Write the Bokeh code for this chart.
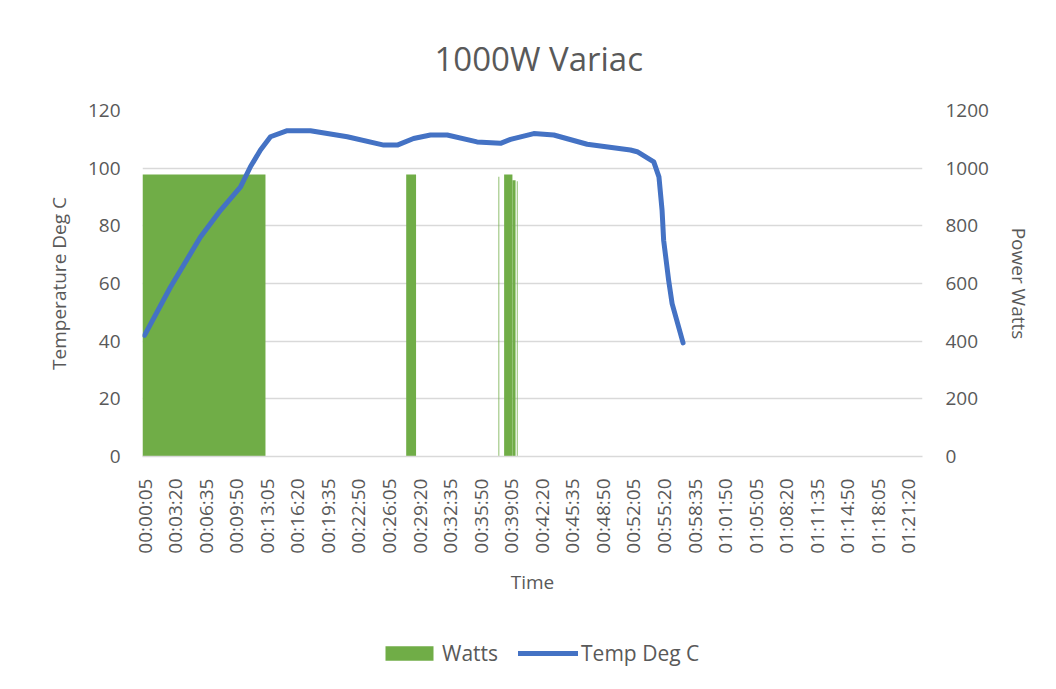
import math
from bokeh.plotting import figure
from bokeh.layouts import column
from bokeh.models import (Range1d, LinearAxis, FixedTicker, Legend, LegendItem,
                          ColumnDataSource)
from bokeh.embed import file_html
from bokeh.resources import INLINE

# ---- data ----
# Temperature curve: time in seconds, degrees C
temp_time_s = [5, 171, 362, 490, 618, 681, 745, 809, 916, 1064, 1299, 1532, 1618,
               1722, 1830, 1937, 2127, 2277, 2341, 2489, 2617, 2830, 3106, 3149,
               3255, 3288, 3308, 3318, 3350, 3372, 3442]
temp_deg_c = [42.0, 58.8, 76.1, 85.4, 93.5, 100.5, 106.3, 110.9, 113.0, 113.0, 110.9,
              108.0, 108.0, 110.3, 111.5, 111.5, 109.1, 108.6, 110.0, 112.0, 111.5,
              108.3, 106.3, 105.7, 102.2, 97.0, 85.4, 75.0, 61.1, 53.0, 39.4]

# Power: intervals during which the heater was on (seconds) and watts
watt_start_s = [-8, 1675, 2264, 2300, 2353, 2381]
watt_end_s = [777, 1738, 2269, 2353, 2373, 2386]
watt_values = [978, 978, 970, 978, 958, 955]

# Category tick labels on the time axis
tick_labels = ["00:00:05", "00:03:20", "00:06:35", "00:09:50", "00:13:05", "00:16:20",
               "00:19:35", "00:22:50", "00:26:05", "00:29:20", "00:32:35", "00:35:50",
               "00:39:05", "00:42:20", "00:45:35", "00:48:50", "00:52:05", "00:55:20",
               "00:58:35", "01:01:50", "01:05:05", "01:08:20", "01:11:35", "01:14:50",
               "01:18:05", "01:21:20"]
temp_ticks = [0, 20, 40, 60, 80, 100, 120]
power_ticks = [0, 200, 400, 600, 800, 1000, 1200]


def to_seconds(s):
    h, m, sec = (int(v) for v in s.split(":"))
    return h * 3600 + m * 60 + sec


tick_pos = [to_seconds(s) for s in tick_labels]

watt_src = ColumnDataSource(dict(left=watt_start_s, right=watt_end_s,
                                 top=watt_values, bottom=[0] * len(watt_values)))
temp_src = ColumnDataSource(dict(t=temp_time_s, c=temp_deg_c))

FONT = "Open Sans"
GRAY = "#595959"
GRID = "#D9D9D9"
GREEN = "#70AD47"
BLUE = "#4472C4"

W = 1050
p = figure(width=W, height=610, output_backend="svg", toolbar_location=None,
           x_range=Range1d(-7.8, 4970), y_range=Range1d(0, 120),
           min_border_left=142, min_border_right=W - 922, min_border_top=110,
           min_border_bottom=154)
p.outline_line_color = None
p.background_fill_color = "white"
p.border_fill_color = "white"

p.title.text = "1000W Variac"
p.title.align = "left"
p.title.offset = 292
p.title.text_font = FONT
p.title.text_font_size = "33px"
p.title.text_font_style = "normal"
p.title.text_color = GRAY
p.title.standoff = 60

p.extra_y_ranges = {"power": Range1d(0, 1200)}

bars = p.quad(left="left", right="right", bottom="bottom", top="top",
              source=watt_src, fill_color=GREEN, line_color=None,
              y_range_name="power")
line = p.line("t", "c", source=temp_src, line_color=BLUE, line_width=5,
              line_cap="round", line_join="round")

# Axes
xa = p.xaxis[0]
xa.ticker = FixedTicker(ticks=tick_pos)
xa.major_label_overrides = {t: l for t, l in zip(tick_pos, tick_labels)}
xa.major_label_orientation = math.pi / 2
xa.axis_label = "Time"
xa.major_label_standoff = 16
xa.axis_label_standoff = 12

ya = p.yaxis[0]
ya.ticker = FixedTicker(ticks=temp_ticks)
ya.axis_label = "Temperature Deg C"
ya.major_label_standoff = 16
ya.axis_label_standoff = 13

ra = LinearAxis(y_range_name="power", ticker=FixedTicker(ticks=power_ticks),
                axis_label="Power Watts")
ra.major_label_standoff = 17
ra.axis_label_standoff = 14
p.add_layout(ra, "right")

for ax in [xa, ya, ra]:
    ax.major_tick_line_color = None
    ax.minor_tick_line_color = None
    ax.axis_line_color = None
    ax.major_label_text_font = FONT
    ax.major_label_text_font_size = "19px"
    ax.major_label_text_color = GRAY
    ax.axis_label_text_font = FONT
    ax.axis_label_text_font_size = "19px"
    ax.axis_label_text_font_style = "normal"
    ax.axis_label_text_color = GRAY
xa.axis_line_color = GRID
xa.axis_line_width = 1.5

p.xgrid.grid_line_color = None
p.ygrid.grid_line_color = GRID
p.ygrid.grid_line_width = 1.5
p.ygrid.ticker = FixedTicker(ticks=temp_ticks)

# Legend strip below the chart (same data, kept out of its visible range)
lg = figure(width=W, height=75, output_backend="svg", toolbar_location=None,
            x_axis_type=None, y_axis_type=None, x_range=Range1d(-7.8, 4970),
            y_range=Range1d(5000, 6000), min_border=0)
lg.outline_line_color = None
lg.grid.grid_line_color = None
lg.border_fill_color = "white"
lg.background_fill_color = "white"
lbars = lg.quad(left="left", right="right", bottom="bottom", top="top",
                source=watt_src, fill_color=GREEN, line_color=None)
lline = lg.line("t", "c", source=temp_src, line_color=BLUE, line_width=5,
                line_cap="round")
legend = Legend(items=[LegendItem(label="Watts", renderers=[lbars]),
                       LegendItem(label="Temp Deg C", renderers=[lline])],
                orientation="horizontal", location=(237, 18),
                glyph_width=60, glyph_height=18, label_standoff=3, spacing=20,
                label_text_font=FONT, label_text_font_size="21px",
                label_text_color=GRAY, border_line_color=None,
                background_fill_alpha=0, margin=0, padding=0)
lg.add_layout(legend, "center")

layout = column(p, lg, spacing=0)
open("out.html", "w").write(file_html(layout, INLINE))
